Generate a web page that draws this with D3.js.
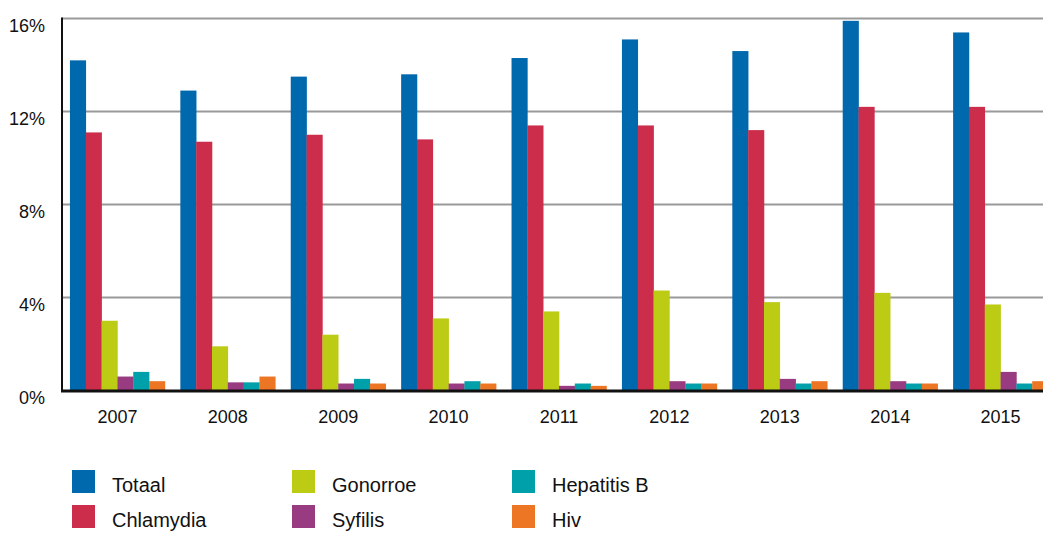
<!DOCTYPE html>
<html>
<head>
<meta charset="utf-8">
<script src="https://cdn.jsdelivr.net/npm/d3@7/dist/d3.min.js"></script>
<style>
  html, body { margin: 0; padding: 0; background: #fff; }
  svg { display: block; font-family: "Liberation Sans", Arial, sans-serif; }
</style>
</head>
<body>
<svg id="chart" width="1043" height="534"></svg>
<script>
const years = ["2007","2008","2009","2010","2011","2012","2013","2014","2015"];
const seriesNames = ["Totaal","Chlamydia","Gonorroe","Syfilis","Hepatitis B","Hiv"];
const seriesColors = ["#0069ad","#cb2d4b","#bccb14","#983b80","#00a0aa","#ec7623"];
const totaal     = [14.2, 12.9, 13.5, 13.6, 14.3, 15.1, 14.6, 15.9, 15.4];
const chlamydia  = [11.1, 10.7, 11.0, 10.8, 11.4, 11.4, 11.2, 12.2, 12.2];
const gonorroe   = [3.0, 1.9, 2.4, 3.1, 3.4, 4.3, 3.8, 4.2, 3.7];
const syfilis    = [0.6, 0.35, 0.3, 0.3, 0.2, 0.4, 0.5, 0.4, 0.8];
const hepatitisB = [0.8, 0.35, 0.5, 0.4, 0.3, 0.3, 0.3, 0.3, 0.3];
const hiv        = [0.4, 0.6, 0.3, 0.3, 0.2, 0.3, 0.4, 0.3, 0.4];
const yTicks = [0, 4, 8, 12, 16];

const seriesValues = [totaal, chlamydia, gonorroe, syfilis, hepatitisB, hiv];

const svg = d3.select("#chart");
const W = 1043;
const x0 = 62, yTop = 18.5, yBase = 390.5;

const y = d3.scaleLinear().domain([0, 16]).range([yBase, yTop]);
const x = d3.scaleBand().domain(years).range([x0, 1056]).paddingInner(0.14).paddingOuter(0.072);
const xs = d3.scaleBand().domain(seriesNames).range([0, x.bandwidth()]);

// gridlines
svg.append("g").selectAll("line")
  .data(yTicks.filter(d => d > 0))
  .join("line")
  .attr("x1", x0).attr("x2", W)
  .attr("y1", d => y(d)).attr("y2", d => y(d))
  .attr("stroke", "#999").attr("stroke-width", 2);

// bars
const groups = svg.append("g").selectAll("g")
  .data(years)
  .join("g")
  .attr("transform", d => `translate(${x(d)},0)`);

groups.selectAll("rect")
  .data((d, i) => seriesNames.map((s, j) => ({ s, v: seriesValues[j][i], c: seriesColors[j] })))
  .join("rect")
  .attr("x", d => xs(d.s))
  .attr("width", xs.bandwidth() + 0.3)
  .attr("y", d => y(d.v))
  .attr("height", d => yBase - y(d.v))
  .attr("fill", d => d.c);

// axes lines
svg.append("line").attr("x1", x0).attr("x2", x0).attr("y1", yTop - 1).attr("y2", yBase + 1.5)
  .attr("stroke", "#111").attr("stroke-width", 2);
svg.append("line").attr("x1", x0 - 1).attr("x2", W).attr("y1", yBase + 0.5).attr("y2", yBase + 0.5)
  .attr("stroke", "#111").attr("stroke-width", 3);

// y labels
svg.append("g").selectAll("text")
  .data(yTicks)
  .join("text")
  .attr("x", 45)
  .attr("y", d => y(d) + 13)
  .attr("text-anchor", "end")
  .attr("font-size", 18)
  .attr("fill", "#111")
  .text(d => d + "%");

// x labels
svg.append("g").selectAll("text")
  .data(years)
  .join("text")
  .attr("x", d => x(d) + x.bandwidth() / 2)
  .attr("y", 423)
  .attr("text-anchor", "middle")
  .attr("font-size", 18)
  .attr("fill", "#111")
  .text(d => d);

// legend
const leg = svg.append("g").selectAll("g")
  .data(seriesNames.map((s, i) => ({ s, c: seriesColors[i], i })))
  .join("g")
  .attr("transform", d => {
    const col = Math.floor(d.i / 2), row = d.i % 2;
    return `translate(${72 + col * 220},${470 + row * 35})`;
  });
leg.append("rect").attr("width", 23).attr("height", 23).attr("fill", d => d.c);
leg.append("text").attr("x", 40).attr("y", 22).attr("font-size", 20).attr("fill", "#111").text(d => d.s);
</script>
</body>
</html>
